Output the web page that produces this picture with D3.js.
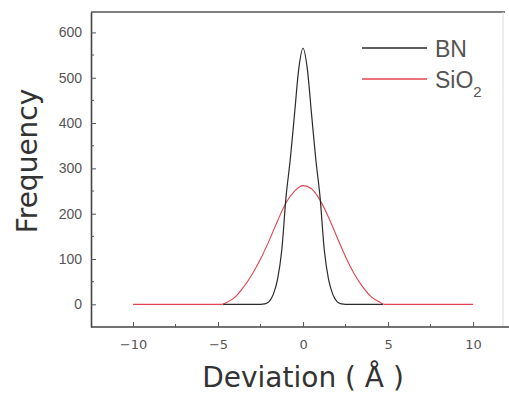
<!DOCTYPE html>
<html>
<head>
<meta charset="utf-8">
<script src="https://cdn.jsdelivr.net/npm/d3@7"></script>
<style>
  body { margin: 0; background: #fff; }
  #chart { width: 509px; height: 394px; }
</style>
</head>
<body>
<div id="chart"></div>
<script>
// deviation (Å) and frequency
const bnX = [-4.7, -2.5, -2.25, -2, -1.75, -1.5, -1.25, -1, -0.75, -0.5, -0.25, 0,
             0.25, 0.5, 0.75, 1, 1.25, 1.5, 1.75, 2, 2.25, 2.5, 4.7]
const bnY = [0, 0, 1, 6, 22, 55, 120, 237, 320, 420, 520, 565,
             520, 420, 320, 237, 120, 55, 22, 6, 1, 0, 0]

const sioX = [-10, -4.8, -4.5, -4, -3.5, -3, -2.5, -2, -1.5, -1, -0.5, 0,
              0.5, 1, 1.5, 2, 2.5, 3, 3.5, 4, 4.5, 4.8, 10]
const sioY = [0, 0, 4, 16, 38, 66, 100, 140, 184, 224, 250, 262,
              255, 230, 192, 148, 105, 68, 39, 17, 5, 0, 0]

const xTicks = [-10, -5, 0, 5, 10]
const xMinor = [-7.5, -2.5, 2.5, 7.5]
const yTicks = [0, 100, 200, 300, 400, 500, 600]
const yMinor = [50, 150, 250, 350, 450, 550]

const legendItems = [
    {name: "BN", color: "#2a2a2a"},
    {name: "SiO", sub: "2", color: "#e2434f"}
]

const margin = {top: 12, right: 6, bottom: 67, left: 91}
const clientWidth = 509
const clientHeight = 394
const width = clientWidth - margin.left - margin.right
const height = clientHeight - margin.top - margin.bottom

const svg = d3.select("#chart").append("svg")
    .attr("width", clientWidth)
    .attr("height", clientHeight)

const g = svg.append("g")
    .attr("transform", `translate(${margin.left}, ${margin.top})`)

const xScale = d3.scaleLinear().domain([-12.47, 11.76]).range([0, width])
const yScale = d3.scaleLinear().domain([-50, 645]).range([height, 0])

// frame: top dark, right faint
g.append("line")
    .attr("x1", 0).attr("x2", width + 2).attr("y1", 0).attr("y2", 0)
    .attr("stroke", "#555").attr("stroke-width", 1.6)
g.append("line")
    .attr("x1", width).attr("x2", width).attr("y1", 0).attr("y2", height)
    .attr("stroke", "#ddd").attr("stroke-width", 1)

const xAxis = d3.axisBottom(xScale)
    .tickValues(xTicks)
    .tickSizeInner(-5).tickSizeOuter(0).tickPadding(13)
    .tickFormat(d => d < 0 ? "\u2212" + Math.abs(d) : d)

const yAxis = d3.axisLeft(yScale)
    .tickValues(yTicks)
    .tickSizeInner(-5).tickSizeOuter(0).tickPadding(9)

const gx = g.append("g")
    .attr("transform", `translate(0, ${height})`)
    .call(xAxis)
gx.select(".domain").attr("stroke", "#444").attr("stroke-width", 1.6)
    .attr("d", `M0,0H${width + 6}`)
gx.selectAll(".tick line").attr("stroke", "#555")
gx.selectAll("text")
    .attr("fill", "#555")
    .style("font-family", "'DejaVu Sans', sans-serif")
    .style("font-size", "13px")

gx.selectAll(".minor").data(xMinor).enter().append("line")
    .attr("class", "minor")
    .attr("x1", d => xScale(d)).attr("x2", d => xScale(d))
    .attr("y1", 0).attr("y2", -3)
    .attr("stroke", "#555")

const gy = g.append("g").call(yAxis)
gy.select(".domain").attr("stroke", "#444").attr("stroke-width", 1.6)
gy.selectAll(".tick line").attr("stroke", "#555")
gy.selectAll("text")
    .attr("fill", "#555")
    .style("font-family", "'Liberation Sans', Arial, sans-serif")
    .style("font-size", "14px")

gy.selectAll(".minor").data(yMinor).enter().append("line")
    .attr("class", "minor")
    .attr("x1", 0).attr("x2", 3)
    .attr("y1", d => yScale(d)).attr("y2", d => yScale(d))
    .attr("stroke", "#555")

// curves
const line = d3.line()
    .x(d => xScale(d[0]))
    .y(d => yScale(d[1]))
    .curve(d3.curveMonotoneX)

g.append("path")
    .datum(sioX.map((x, i) => [x, sioY[i]]))
    .attr("fill", "none")
    .attr("stroke", legendItems[1].color)
    .attr("stroke-width", 1.1)
    .attr("d", line)

g.append("path")
    .datum(bnX.map((x, i) => [x, bnY[i]]))
    .attr("fill", "none")
    .attr("stroke", legendItems[0].color)
    .attr("stroke-width", 1.2)
    .attr("d", line)

// legend
const legend = svg.append("g").attr("transform", "translate(362, 48)")
legendItems.forEach((item, i) => {
    const row = legend.append("g").attr("transform", `translate(0, ${i * 31})`)
    row.append("line")
        .attr("x1", 0).attr("x2", 65)
        .attr("stroke", item.color).attr("stroke-width", 1.3)
    const t = row.append("text")
        .attr("x", 73).attr("y", 9)
        .attr("fill", "#555")
        .style("font-family", "'Liberation Sans', Arial, sans-serif")
        .style("font-size", "23px")
        .text(item.name)
    if (item.sub) {
        t.append("tspan")
            .attr("dy", 9)
            .style("font-size", "15px")
            .text(item.sub)
    }
})

// axis titles
svg.append("text")
    .attr("x", margin.left + xScale(0))
    .attr("y", 387)
    .attr("text-anchor", "middle")
    .attr("fill", "#333")
    .style("font-family", "'DejaVu Sans', sans-serif")
    .style("font-size", "28px")
    .text("Deviation ( \u00c5 )")

svg.append("text")
    .attr("transform", "translate(37, 161) rotate(-90)")
    .attr("text-anchor", "middle")
    .attr("fill", "#333")
    .style("font-family", "'DejaVu Sans', sans-serif")
    .style("font-size", "28px")
    .text("Frequency")
</script>
</body>
</html>
